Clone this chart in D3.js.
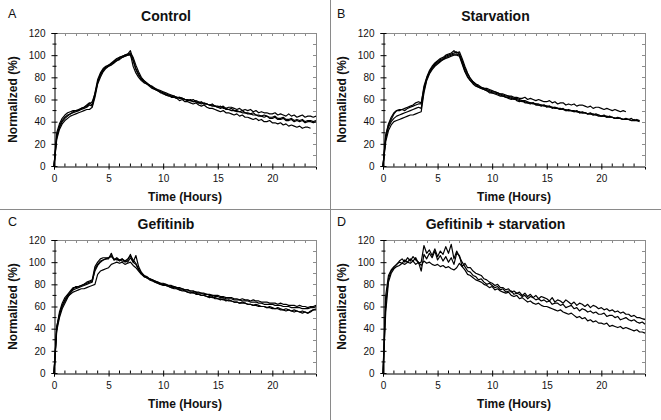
<!DOCTYPE html>
<html><head><meta charset="utf-8">
<script src="https://cdn.jsdelivr.net/npm/d3@7"></script>
<style>body{margin:0;background:#fff}svg{display:block}text{font-family:Arial,"Liberation Sans",sans-serif}</style>
</head><body><svg id="c" width="661" height="420"></svg>
<script>
const hours = [0,0.25,0.5,0.75,1,1.25,1.5,1.75,2,2.25,2.5,2.75,3,3.25,3.5,3.75,4,4.25,4.5,4.75,5,5.25,5.5,5.75,6,6.25,6.5,6.75,7,7.25,7.5,7.75,8,8.25,8.5,8.75,9,9.25,9.5,9.75,10,10.25,10.5,10.75,11,11.25,11.5,11.75,12,12.25,12.5,12.75,13,13.25,13.5,13.75,14,14.25,14.5,14.75,15,15.25,15.5,15.75,16,16.25,16.5,16.75,17,17.25,17.5,17.75,18,18.25,18.5,18.75,19,19.25,19.5,19.75,20,20.25,20.5,20.75,21,21.25,21.5,21.75,22,22.25,22.5,22.75,23,23.25,23.5,23.75,24];

const panelTitles = ["Control","Starvation","Gefitinib","Gefitinib + starvation"];
const panelLetters = ["A","B","C","D"];
const xTicks = [0,5,10,15,20];
const yTicks = [0,20,40,60,80,100,120];

// A: Control
const controlA1 = [0,27,35,40,43,45,47,48,49,50, 51,52,53,55,54,64,76,82,86,89, 90,92,94,95,97,98,99,100,101,90, 84,80,77,75,74,72,70,69,68,66, 66,64,64,62,62,61,59,60,58,58, 57,56,57,55,54,55,53,52,52,51, 50,49,50,48,48,47,46,47,45,46, 44,44,43,42,43,41,42,40,40,41, 39,39,38,39,37,38,36,37,36,35, 36,34,35,35,34];
const controlA2 = [0,24,33,38,41,43,45,46,47,48, 49,50,51,51,53,62,74,80,85,88, 90,91,93,95,96,98,99,100,100,95, 87,82,78,76,74,73,71,70,68,67, 66,65,64,63,63,62,61,61,60,59, 59,58,58,57,56,57,56,55,54,54, 53,52,53,51,51,50,50,49,49,48, 48,47,47,46,46,45,45,44,45,43, 43,44,42,42,43,41,41,42,40,41, 40,41,39,40,40,39,40];
const controlA3 = [0,30,38,43,46,48,49,50,50,51, 52,53,55,57,55,66,78,84,88,90, 91,93,95,97,98,99,100,101,104,96, 88,83,79,77,75,73,72,70,69,68, 67,66,65,64,63,62,62,61,60,60, 59,60,58,57,58,56,56,55,55,54, 53,54,52,52,51,52,50,50,49,50, 48,48,47,48,46,46,45,46,45,44, 44,45,43,43,44,42,42,43,41,42, 41,42,40,41,41,40,41];
const controlA4 = [0,26,36,41,44,46,47,49,50,50, 52,53,54,56,58,65,75,83,87,89, 91,92,94,96,98,99,100,101,102,98, 91,85,80,77,75,73,71,69,68,67, 65,64,63,63,62,61,62,61,60,59, 60,58,59,58,57,56,56,55,56,54, 54,53,54,52,53,53,52,51,52,50, 51,50,51,49,50,48,49,48,48,47, 47,48,46,47,46,45,47,45,46,44, 45,46,44,45,45,44,45];
// B: Starvation
const starvB1 = [0,28,38,44,48,50,51,51,52,53, 54,55,57,58,57,70,79,85,89,92, 94,96,97,99,100,101,102,103,101,95, 88,83,79,76,74,73,71,70,69,68, 67,67,66,65,65,64,63,63,62,62, 61,61,62,60,61,60,59,60,59,58, 58,59,57,58,56,57,57,55,56,55, 56,54,55,55,54,53,54,52,53,53, 52,51,52,51,50,51,50,49,50,49];
const starvB2 = [0,25,35,40,43,45,46,47,48,49, 50,51,52,53,52,68,78,84,88,91, 93,95,96,98,99,100,101,101,100,93, 86,81,77,75,73,71,70,69,68,67, 66,66,65,64,63,62,62,61,60,60, 59,58,58,57,57,56,56,55,55,54, 54,53,53,52,52,51,51,50,50,50, 49,49,48,48,48,47,47,46,46,45, 45,45,44,44,44,43,43,43,42,42, 42,41,42,41,41];
const starvB3 = [0,22,32,37,40,41,42,43,44,45, 46,46,47,48,49,66,77,83,87,90, 92,94,96,97,98,99,100,100,99,92, 85,80,77,74,72,71,70,69,68,66, 66,65,64,63,63,62,61,60,61,59, 58,59,57,57,56,57,55,55,54,55, 53,54,52,53,52,51,52,50,51,50, 49,50,48,49,48,47,48,46,47,46, 45,46,44,45,44,43,44,43,42,43, 42,43,41,42,41];
const starvB4 = [0,27,37,42,47,50,50,51,50,52, 53,54,55,56,56,72,80,86,90,93, 95,97,98,100,101,102,104,102,103,97, 90,84,79,76,74,72,71,70,70,69, 68,67,66,65,64,63,63,62,61,61, 60,59,59,58,57,57,56,56,55,55, 54,54,53,53,52,52,51,51,50,50, 50,49,49,48,48,47,47,47,46,46, 45,45,45,44,44,43,43,43,42,42, 42,41,41,41,40];
// C: Gefitinib
const gefC1 = [0,42,53,60,65,69,71,73,74,75, 76,76,77,78,79,80,89,92,93,94, 95,98,99,100,99,100,98,99,100,97, 95,92,89,87,86,85,84,83,82,81, 80,80,79,78,78,77,76,76,75,75, 74,74,73,73,72,72,71,71,70,70, 70,69,69,68,68,68,67,67,66,67, 66,66,65,66,65,65,64,64,64,63, 63,63,62,63,62,62,61,61,61,60, 61,60,60,59,60,60,61];
const gefC2 = [0,38,50,58,63,68,72,75,76,77, 78,79,80,81,82,94,98,101,102,103, 103,108,102,103,101,103,100,102,107,100, 106,96,91,88,87,85,84,82,81,80, 80,79,78,77,76,76,75,74,74,73, 72,73,71,71,70,70,69,68,69,67, 67,66,67,65,66,65,64,64,63,64, 63,62,62,61,62,61,60,60,59,60, 59,58,59,58,57,58,57,56,57,56, 55,56,55,54,56,57,58];
const gefC3 = [0,40,52,61,66,70,73,76,78,78, 79,80,82,83,84,96,100,103,104,104, 104,105,103,102,102,101,101,100,104,100, 98,94,90,87,86,84,83,82,81,80, 79,79,78,77,77,76,75,75,74,73, 73,72,72,71,70,70,69,69,68,68, 67,67,66,66,65,65,64,64,63,63, 63,62,62,61,61,60,60,60,59,59, 58,58,58,57,57,56,57,56,55,56, 55,54,55,54,55,57,57];
const gefC4 = [0,41,55,63,68,71,74,77,77,78, 79,80,81,82,83,92,97,100,102,103, 104,106,102,104,102,103,101,103,106,102, 99,93,90,88,86,85,84,83,82,81, 81,80,79,79,78,77,77,76,75,75, 74,74,73,72,72,71,71,70,70,69, 69,68,68,67,67,67,66,66,66,65, 65,65,64,64,64,63,63,62,62,62, 62,61,61,61,60,60,60,59,59,59, 59,58,58,58,59,59,60];
// D: Gefitinib + starvation
const gsD1 = [0,70,88,93,96,98,100,99,102,100, 103,101,104,99,100,115,108,111,106,112, 105,110,107,114,108,116,103,110,105,100, 96,92,91,88,87,84,85,82,80,81, 79,77,78,75,76,73,74,74,71,72, 71,69,70,67,69,68,66,67,65,66, 64,65,62,63,63,61,62,59,60,61, 58,59,56,58,57,55,56,54,55,53, 53,54,51,52,52,50,51,48,49,50, 48,47,48,46,45,46,44];
const gsD2 = [0,62,85,92,95,98,101,103,100,104, 101,105,102,100,92,107,103,108,104,110, 102,106,101,105,100,104,98,108,106,96, 99,95,95,92,90,89,88,85,84,82, 81,79,80,77,77,75,76,73,74,72, 73,70,72,69,71,68,70,67,69,68, 67,65,68,64,66,65,63,66,64,62, 64,61,63,62,60,62,59,61,60,58, 59,57,58,56,57,55,56,54,55,53, 53,51,52,50,50,49,48];
const gsD3 = [0,55,82,90,94,96,97,99,98,100, 99,101,98,100,97,101,99,100,98,97, 98,96,97,95,96,94,93,95,99,96, 93,89,88,86,84,83,82,80,79,77, 78,75,76,74,73,72,73,70,69,70, 67,68,66,64,65,63,62,63,61,60, 60,59,58,57,56,57,55,54,53,54, 52,50,51,49,50,47,48,46,47,45, 45,44,45,42,43,42,41,42,40,41, 40,39,38,39,37,37,36];

const panelSeries = [
  [controlA1, controlA2, controlA3, controlA4],
  [starvB1, starvB2, starvB3, starvB4],
  [gefC1, gefC2, gefC3, gefC4],
  [gsD1, gsD2, gsD3]
];

const svg = d3.select("#c");
const W = 661, H = 420;
const layout = [
  {x0:54, x1:316, y0:33, y1:166, cx:166, lx:8, ty:21, ly:18},
  {x0:383, x1:645, y0:33, y1:166, cx:495.5, lx:337, ty:21, ly:18},
  {x0:54, x1:316, y0:240, y1:373, cx:166, lx:8, ty:229, ly:226},
  {x0:383, x1:645, y0:240, y1:373, cx:495.5, lx:337, ty:229, ly:226}
];

// dividers
svg.append("line").attr("x1",330.5).attr("x2",330.5).attr("y1",0).attr("y2",H).attr("stroke","#8a8a8a").attr("stroke-width",1);
svg.append("line").attr("x1",0).attr("x2",W).attr("y1",209.5).attr("y2",209.5).attr("stroke","#8a8a8a").attr("stroke-width",1);

layout.forEach((L, i) => {
  const g = svg.append("g");
  const x = d3.scaleLinear().domain([0,24]).range([L.x0, L.x1]);
  const y = d3.scaleLinear().domain([0,120]).range([L.y1, L.y0]);

  g.append("text").attr("x", L.lx).attr("y", L.ly).attr("font-size", 12.5).attr("fill","#111").text(panelLetters[i]);
  g.append("text").attr("x", L.cx).attr("y", L.ty).attr("text-anchor","middle").attr("font-size",14).attr("font-weight","bold").attr("fill","#111").text(panelTitles[i]);

  // top/right frame (gray)
  g.append("line").attr("x1",L.x0).attr("x2",L.x1).attr("y1",L.y0+0.5).attr("y2",L.y0+0.5).attr("stroke","#8c8c8c");
  g.append("line").attr("x1",L.x1+0.5).attr("x2",L.x1+0.5).attr("y1",L.y0).attr("y2",L.y1).attr("stroke","#8c8c8c");
  d3.range(1,24).forEach(h => {
    g.append("line").attr("x1",Math.round(x(h))+0.5).attr("x2",Math.round(x(h))+0.5).attr("y1",L.y0).attr("y2",L.y0+3).attr("stroke","#8c8c8c");
  });
  d3.range(10,120,10).forEach(v => {
    g.append("line").attr("x1",L.x1-3).attr("x2",L.x1).attr("y1",Math.round(y(v))+0.5).attr("y2",Math.round(y(v))+0.5).attr("stroke","#8c8c8c");
  });

  // left axis
  const yAx = g.append("g").attr("transform",`translate(${L.x0+0.5},0)`)
    .call(d3.axisLeft(y).tickValues(yTicks).tickSize(3).tickPadding(6).tickFormat(d3.format("d")));
  yAx.selectAll(".tick line").attr("x2",-3).attr("x1",3).attr("stroke","#000");
  yAx.select(".domain").attr("stroke","#000");
  yAx.selectAll("text").attr("font-size",10).attr("fill","#111").attr("font-family","Arial, Liberation Sans, sans-serif");
  d3.range(10,120,20).forEach(v => {
    yAx.append("line").attr("x1",-2).attr("x2",2).attr("y1",y(v)).attr("y2",y(v)).attr("stroke","#000");
  });

  // bottom axis
  const xAx = g.append("g").attr("transform",`translate(0,${L.y1+0.5})`)
    .call(d3.axisBottom(x).tickValues(xTicks).tickSize(3).tickPadding(5).tickFormat(d3.format("d")));
  xAx.selectAll(".tick line").attr("y1",-3).attr("y2",3).attr("stroke","#000");
  xAx.select(".domain").attr("stroke","#000");
  xAx.selectAll("text").attr("font-size",10).attr("fill","#111").attr("font-family","Arial, Liberation Sans, sans-serif");
  d3.range(1,24).filter(h => h % 5 !== 0).forEach(h => {
    xAx.append("line").attr("x1",x(h)).attr("x2",x(h)).attr("y1",-3).attr("y2",0).attr("stroke","#000");
  });

  // axis titles
  g.append("text").attr("x",(L.x0+L.x1)/2).attr("y",L.y1+35).attr("text-anchor","middle").attr("font-size",12).attr("font-weight","bold").attr("fill","#111").text("Time (Hours)");
  g.append("text").attr("transform",`translate(${L.x0-37},${(L.y0+L.y1)/2}) rotate(-90)`).attr("text-anchor","middle").attr("font-size",12).attr("font-weight","bold").attr("fill","#111").text("Normalized (%)");

  // series
  const line = d3.line().x((d,k) => x(hours[k])).y(d => y(d));
  panelSeries[i].forEach(s => {
    g.append("path").datum(s).attr("d", line).attr("fill","none").attr("stroke","#000").attr("stroke-width",1.2).attr("stroke-linejoin","round");
  });
});
</script></body></html>
